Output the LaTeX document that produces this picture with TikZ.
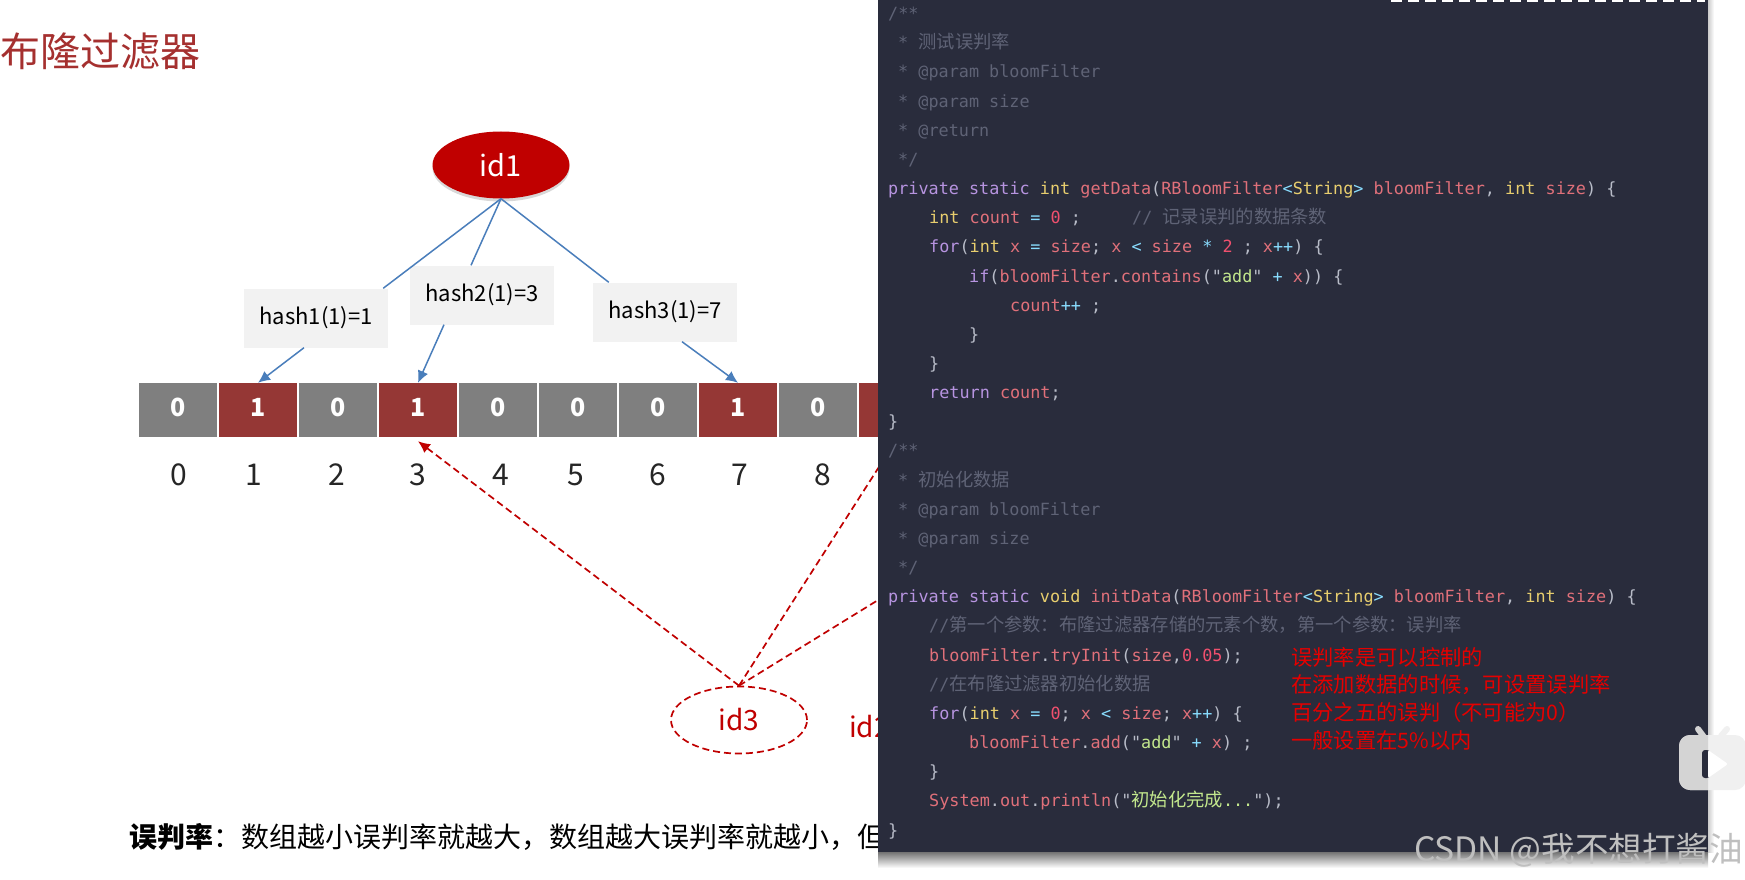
\documentclass[tikz,border=0pt]{standalone}
\usepackage{fontspec}
\usepackage{xcolor}
\setmainfont{Noto Sans CJK SC}
\newfontfamily\codefont{DejaVu Sans Mono}
\newfontfamily\cjk{Noto Sans CJK SC}
\usetikzlibrary{calc,shapes,arrows.meta,shadows}
\tikzstyle{every picture}=[>=latex]
\definecolor{titlered}{HTML}{A5302F}
\definecolor{deepred}{HTML}{C00000}
\definecolor{cellred}{HTML}{953735}
\definecolor{cellgray}{HTML}{7F7F7F}
\definecolor{linkblue}{HTML}{4A7EBB}
\definecolor{panelbg}{HTML}{292C3C}
\definecolor{ckwc}{HTML}{B794E0}
\definecolor{ctyc}{HTML}{E8CE6E}
\definecolor{cvarc}{HTML}{E0707A}
\definecolor{copc}{HTML}{89DDFF}
\definecolor{cstrc}{HTML}{C3E88D}
\definecolor{cnumc}{HTML}{F0506E}
\definecolor{ccmc}{HTML}{5F6376}
\definecolor{cplc}{HTML}{B8BCC8}
\newcommand{\ckw}[1]{\textcolor{ckwc}{#1}}
\newcommand{\cty}[1]{\textcolor{ctyc}{#1}}
\newcommand{\cvar}[1]{\textcolor{cvarc}{#1}}
\newcommand{\cop}[1]{\textcolor{copc}{#1}}
\newcommand{\cstr}[1]{\textcolor{cstrc}{#1}}
\newcommand{\cnum}[1]{\textcolor{cnumc}{#1}}
\newcommand{\chan}[1]{{\cjk\fontsize{18.3}{20}\selectfont #1}}
\tikzset{
  cellbox/.style={rectangle,minimum width=78pt,minimum height=54pt,inner sep=0pt,text=white,text height=18pt,text depth=6pt,font=\fontsize{25}{28}\selectfont\bfseries},
  hashbox/.style={rectangle,fill=black!5,minimum width=144pt,minimum height=59pt,inner sep=0pt,font=\fontsize{22}{26}\selectfont},
  indexnum/.style={text=black!85,inner sep=0pt,font=\fontsize{30}{34}\selectfont},
  bluelink/.style={draw=linkblue,line width=1.5pt},
  redlink/.style={draw=deepred,line width=1.7pt,dash pattern=on 7pt off 4pt},
  codeline/.style={anchor=west,inner sep=0pt,yshift=-1.5pt,text height=14pt,text depth=4pt,text=cplc,font=\codefont\fontsize{16.8}{20}\selectfont},
  commentline/.style={codeline,text=ccmc},
  noteline/.style={anchor=west,inner sep=0pt,text=red!90!black,font=\fontsize{21.3}{26}\selectfont},
  iconbody/.style={rounded corners=11pt},
  iconear/.style={line width=6pt,line cap=round}
}
\begin{document}
\begin{tikzpicture}[x=1pt,y=-1pt]
    \clip (0,0) rectangle (1745,880);
    \fill[white] (0,0) rectangle (1745,880);
    % title
    \node[anchor=west,inner sep=0pt,text=titlered,font=\fontsize{40}{44}\selectfont] (title) at (0,51) {布隆过滤器};
    % id1 and the hash boxes
    \node[ellipse,fill=deepred,minimum width=137pt,minimum height=67pt,inner sep=0pt,text=white,font=\fontsize{29}{32}\selectfont,drop shadow={shadow xshift=0pt,shadow yshift=-3pt,opacity=.3}] (id1) at (501,165) {id1};
    \node[hashbox] (hash1) at (316,318) {hash1(1)=1};
    \node[hashbox] (hash2) at (482,295) {hash2(1)=3};
    \node[hashbox] (hash3) at (665,312) {hash3(1)=7};
    % bit array
    \node[cellbox,fill=cellgray] (cell0) at (178,410) {0};
    \node[cellbox,fill=cellred] (cell1) at (258,410) {1};
    \node[cellbox,fill=cellgray] (cell2) at (338,410) {0};
    \node[cellbox,fill=cellred] (cell3) at (418,410) {1};
    \node[cellbox,fill=cellgray] (cell4) at (498,410) {0};
    \node[cellbox,fill=cellgray] (cell5) at (578,410) {0};
    \node[cellbox,fill=cellgray] (cell6) at (658,410) {0};
    \node[cellbox,fill=cellred] (cell7) at (738,410) {1};
    \node[cellbox,fill=cellgray] (cell8) at (818,410) {0};
    \node[cellbox,fill=cellred] (cell9) at (898,410) {};
    % index row
    \node[indexnum] (num0) at (179,475) {0};
    \node[indexnum] (num1) at (254,475) {1};
    \node[indexnum] (num2) at (337,475) {2};
    \node[indexnum] (num3) at (418,475) {3};
    \node[indexnum] (num4) at (501,475) {4};
    \node[indexnum] (num5) at (576,475) {5};
    \node[indexnum] (num6) at (658,475) {6};
    \node[indexnum] (num7) at (740,475) {7};
    \node[indexnum] (num8) at (823,475) {8};
    % blue links
    \draw[bluelink] (id1.south) -- ([xshift=-5pt]hash1.north east);
    \draw[bluelink] (id1.south) -- ([xshift=-11pt]hash2.north);
    \draw[bluelink] (id1.south) -- ([xshift=16pt]hash3.north west);
    \draw[bluelink,-{Latex[length=12pt,width=11pt]}] ([xshift=-12pt]hash1.south) -- (cell1.north);
    \draw[bluelink,-{Latex[length=12pt,width=11pt]}] ([xshift=-38pt]hash2.south) -- (cell3.north);
    \draw[bluelink,-{Latex[length=12pt,width=11pt]}] ([xshift=17pt]hash3.south) -- (cell7.north);
    % id3 and what it points at
    \node[ellipse,draw=deepred,redlink,minimum width=136pt,minimum height=67pt,inner sep=0pt,text=deepred,font=\fontsize{28}{32}\selectfont] (id3) at (739,720) {id3};
    \node[anchor=west,inner sep=0pt,text=deepred,font=\fontsize{28}{32}\selectfont] (id2) at (849,727) {id2};
    \coordinate (hiddenend) at (1143,437);
    \draw[redlink,-{Latex[length=12pt,width=11pt]}] (id3.north) -- ([yshift=-4pt]cell3.south);
    \draw[redlink,-{Latex[length=12pt,width=11pt]}] (id3.north) -- (cell9.south);
    \draw[redlink] (id3.north) -- (hiddenend);
    % bottom sentence
    \node[anchor=west,inner sep=0pt,font=\fontsize{28}{32}\selectfont] (rate) at (129,837) {\textbf{误判率}：数组越小误判率就越大，数组越大误判率就越小，但};
    % code panel
    \shade[top color=black!55,bottom color=white] (878,852) rectangle (1708,868);
    \shade[left color=black!20,right color=white] (1708,0) rectangle (1714,852);
    \fill[panelbg] (878,0) rectangle (1708,852);
    \draw[white,line width=3pt,dash pattern=on 11pt off 6pt] (1391,1) -- (1705,1);
    % getData
    \node[commentline] (c1) at (888,13) {/**};
    \node[commentline] (c2) at (898,42) {* \chan{测试误判率}};
    \node[commentline] (c3) at (898,71) {* @param bloomFilter};
    \node[commentline] (c4) at (898,101) {* @param size};
    \node[commentline] (c5) at (898,130) {* @return};
    \node[commentline] (c6) at (898,159) {*/};
    \node[codeline] (c7) at (888,188) {\ckw{private} \ckw{static} \cty{int} \cvar{getData}(\cvar{RBloomFilter}\cop{<}\cty{String}\cop{>} \cvar{bloomFilter}, \cty{int} \cvar{size}) \{};
    \node[codeline] (c8) at (929,217) {\cty{int} \cvar{count} \cop{=} \cnum{0} ;};
    \node[commentline] (c8b) at (1132,217) {// \chan{记录误判的数据条数}};
    \node[codeline] (c9) at (929,246) {\ckw{for}(\cty{int} \cvar{x} \cop{=} \cvar{size}; \cvar{x} \cop{<} \cvar{size} \cop{*} \cnum{2} ; \cvar{x}\cop{++}) \{};
    \node[codeline] (c10) at (969,276) {\ckw{if}(\cvar{bloomFilter}.\cvar{contains}("\cstr{add}" \cop{+} \cvar{x})) \{};
    \node[codeline] (c11) at (1010,305) {\cvar{count}\cop{++} ;};
    \node[codeline] (c12) at (969,334) {\}};
    \node[codeline] (c13) at (929,363) {\}};
    \node[codeline] (c14) at (929,392) {\ckw{return} \cvar{count};};
    \node[codeline] (c15) at (888,421) {\}};
    % initData
    \node[commentline] (c16) at (888,450) {/**};
    \node[commentline] (c17) at (898,480) {* \chan{初始化数据}};
    \node[commentline] (c18) at (898,509) {* @param bloomFilter};
    \node[commentline] (c19) at (898,538) {* @param size};
    \node[commentline] (c20) at (898,567) {*/};
    \node[codeline] (c21) at (888,596) {\ckw{private} \ckw{static} \cty{void} \cvar{initData}(\cvar{RBloomFilter}\cop{<}\cty{String}\cop{>} \cvar{bloomFilter}, \cty{int} \cvar{size}) \{};
    \node[commentline] (c22) at (929,625) {//\chan{第一个参数：布隆过滤器存储的元素个数，第一个参数：误判率}};
    \node[codeline] (c23) at (929,655) {\cvar{bloomFilter}.\cvar{tryInit}(\cvar{size},\cnum{0.05});};
    \node[commentline] (c24) at (929,684) {//\chan{在布隆过滤器初始化数据}};
    \node[codeline] (c25) at (929,713) {\ckw{for}(\cty{int} \cvar{x} \cop{=} \cnum{0}; \cvar{x} \cop{<} \cvar{size}; \cvar{x}\cop{++}) \{};
    \node[codeline] (c26) at (969,742) {\cvar{bloomFilter}.\cvar{add}("\cstr{add}" \cop{+} \cvar{x}) ;};
    \node[codeline] (c27) at (929,771) {\}};
    \node[codeline] (c28) at (929,800) {\cvar{System}.\cvar{out}.\cvar{println}("\cstr{\chan{初始化完成}...}");};
    \node[codeline] (c29) at (888,830) {\}};
    % red notes
    \node[noteline] (note1) at (1291,657) {误判率是可以控制的};
    \node[noteline] (note2) at (1291,685) {在添加数据的时候，可设置误判率};
    \node[noteline] (note3) at (1291,712) {百分之五的误判（不可能为0）};
    \node[noteline] (note4) at (1291,740) {一般设置在5\%以内};
    % player icon
    \fill[black!6,iconbody] (1679,735) rectangle (1746,790);
    \draw[black!6,iconear] (1721,736) -- (1727,729);
    \begin{scope}
      \clip (1670,720) rectangle (1708,800);
      \fill[black!17,iconbody] (1679,735) rectangle (1746,790);
      \draw[black!17,iconear] (1704,737) -- (1698,729);
    \end{scope}
    \fill[panelbg,rounded corners=3pt] (1702,750) rectangle (1710,778);
    \fill[white,rounded corners=2pt] (1708,750) -- (1728,764) -- (1708,778) -- cycle;
    % watermark
    \node[anchor=west,inner sep=0pt,text=black!25,font=\fontsize{33.6}{38}\selectfont] (mark) at (1414,850) {CSDN @我不想打酱油};
\end{tikzpicture}
\end{document}
